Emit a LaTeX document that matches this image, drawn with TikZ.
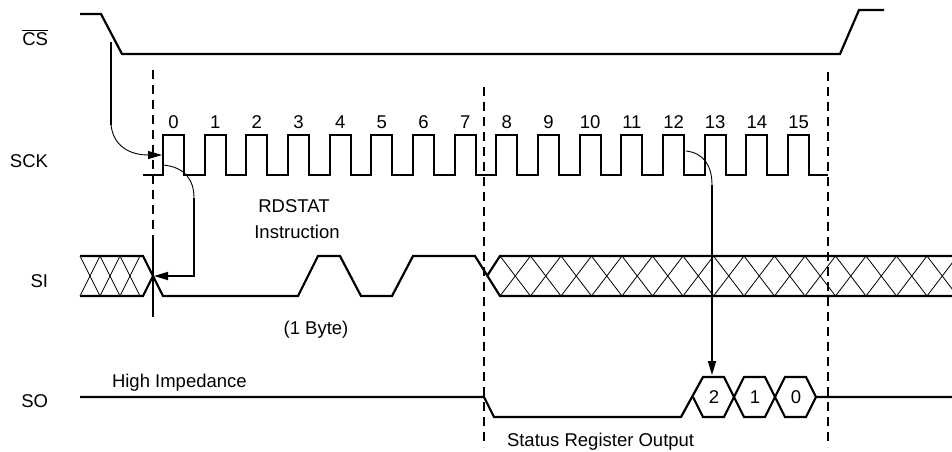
\documentclass[tikz,border=0pt]{standalone}
\usepackage{fontspec}
\setmainfont{Liberation Sans}
\usetikzlibrary{arrows.meta}
\begin{document}
\begin{tikzpicture}[x=1pt,y=-1pt,
  every node/.style={inner sep=0pt,outer sep=0pt,font=\fontsize{18.5}{22}\selectfont},
  sig/.style={line width=2.2pt,line join=miter,line cap=butt},
  hatch/.style={line width=0.8pt},
  dsh/.style={line width=2pt,dash pattern=on 9pt off 6pt},
  med/.style={line width=1.7pt},
  thinl/.style={line width=0.9pt},
  tip/.style={-{Triangle[length=14pt,width=8pt]}},
  lbl/.style={anchor=base east},
  num/.style={anchor=base}]
\useasboundingbox (0,0) rectangle (952,451);

% signal labels
\node[lbl] (lcs) at (48,45) {$\overline{\hbox{CS}}$};
\node[lbl] (lsck) at (48,167) {SCK};
\node[lbl] (lsi) at (48,287) {SI};
\node[lbl] (lso) at (48,407) {SO};

% CS
\draw[sig] (80,14) -- (101,14) -- (122,54) -- (840,54) -- (859,10) -- (884,10);

% SCK
\draw[sig] (143,175) foreach \i in {0,...,15} {
  -- ({163+41.67*\i},175) -- ({163+41.67*\i},135) -- ({184+41.67*\i},135) -- ({184+41.67*\i},175) } -- (828,175);
\foreach \i in {0,...,15} \node[num] (n\i) at ({173.5+41.67*\i},128) {\i};

% dashed markers
\draw[dsh] (153,70) -- (153,237);
\draw[med] (153,237) -- (153,317);
\draw[dsh] (484,87) -- (484,447);
\draw[dsh] (828,72) -- (828,447);

% SI left don't care
\draw[sig] (80,256) -- (143,256) -- (153,276) -- (143,296) -- (80,296);
\foreach \k in {0,1,2} {
  \draw[hatch] ({80+20*\k},256) -- ({100+20*\k},296);
  \draw[hatch] ({80+20*\k},296) -- ({100+20*\k},256);
}
% SI data
\draw[sig] (153,276) -- (163,296) -- (298,296) -- (318,256) -- (340,256) -- (361,296) -- (392,296) -- (413,256) -- (475,256) -- (500,296) -- (952,296);
\draw[sig] (487,276) -- (500,256) -- (952,256);
\begin{scope}
\clip (500,250) rectangle (952,300);
\foreach \k in {0,...,14} {
  \draw[hatch] ({500+30.5*\k},256) -- ({530.5+30.5*\k},296);
  \draw[hatch] ({500+30.5*\k},296) -- ({530.5+30.5*\k},256);
}
\end{scope}

% SO
\draw[sig] (80,397) -- (484,397) -- (494,417) -- (681,417) -- (703,377) -- (724,377) -- (734,397) -- (744,417) -- (765,417) -- (775,397) -- (785,377) -- (806,377) -- (816,397) -- (952,397);
\draw[sig] (693,397) -- (703,417) -- (724,417) -- (734,397) -- (744,377) -- (765,377) -- (775,397) -- (785,417) -- (806,417) -- (816,397);
\node (h2) at (714,397) {2};
\node (h1) at (755,397) {1};
\node (h0) at (796,397) {0};

% texts
\node[anchor=base] (rd) at (294,212) {RDSTAT};
\node[anchor=base] (ins) at (297,238) {Instruction};
\node[anchor=base] (byte) at (316,334) {(1 Byte)};
\node[anchor=base west] (hiz) at (112,387) {High Impedance};
\node[anchor=base west] (sro) at (507,446) {Status Register Output};

% causal arrows
\coordinate (csfall) at (111,42);
\coordinate (csbend) at (111,125);
\coordinate (sckrise) at (162,155);
\draw[med] (csfall) -- (csbend);
\draw[thinl,tip] (csbend) .. controls (114,150) and (135,155) .. (sckrise);

\coordinate (sck0) at (163,165);
\coordinate (sck0b) at (194,198);
\coordinate (sicorner) at (194,276);
\coordinate (sipt) at (154,276);
\draw[thinl] (sck0) .. controls (185,167) and (194,180) .. (sck0b);
\draw[med,tip] (sck0b) -- (sicorner) -- (sipt);

\coordinate (sck12) at (686,151);
\coordinate (sck12b) at (712,185);
\coordinate (sotop) at (712,375);
\draw[thinl] (sck12) .. controls (704,153) and (712,166) .. (sck12b);
\draw[med,tip] (sck12b) -- (sotop);
\end{tikzpicture}
\end{document}
